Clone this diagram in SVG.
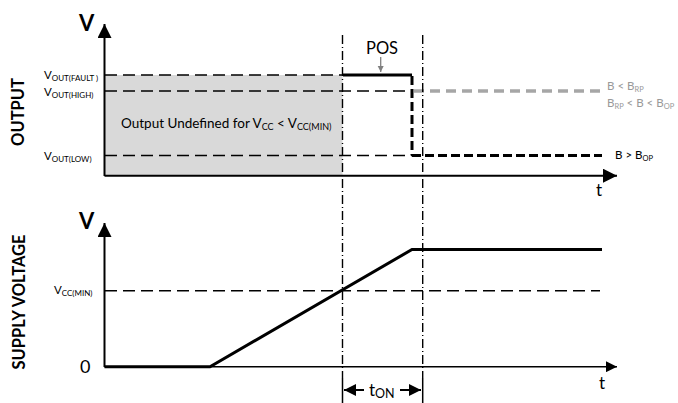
<svg xmlns="http://www.w3.org/2000/svg" width="678" height="403" viewBox="0 0 678 403">
<defs>
<style>
text{font-family:Lato,"Liberation Sans",sans-serif;fill:#000}
.ax{stroke:#000;stroke-width:2;fill:none}
.thin{stroke:#000;stroke-width:1.4;stroke-dasharray:12 6;fill:none}
.dd{stroke:#000;stroke-width:1.4;stroke-dasharray:9 3 1 3;fill:none}
.sig{stroke:#000;stroke-width:3;fill:none}
.sigd{stroke:#000;stroke-width:3;stroke-dasharray:9 4;fill:none}
.gry{stroke:#a6a6a6;stroke-width:3.5;stroke-dasharray:10 6;fill:none}
.lbl{font-size:11.5px}
.sub{font-size:8px}
.side{font-size:16.5px;font-weight:bold}
.big{font-size:22px;font-weight:bold}
.gt{fill:#999}
</style>
<marker id="ah" viewBox="0 0 10 10" refX="10" refY="5" markerWidth="7" markerHeight="7" markerUnits="strokeWidth" orient="auto"><path d="M0,0 L10,5 L0,10 z" fill="#000"/></marker>
<marker id="sa" viewBox="0 0 10 10" refX="10" refY="5" markerWidth="6" markerHeight="6" markerUnits="strokeWidth" orient="auto"><path d="M0,0 L10,5 L0,10 z" fill="#000"/></marker>
<marker id="ga" viewBox="0 0 10 10" refX="10" refY="5" markerWidth="5" markerHeight="5" markerUnits="strokeWidth" orient="auto"><path d="M0,0 L10,5 L0,10 z" fill="#808080"/></marker>
</defs>

<g id="output-chart">
<rect x="104.5" y="75" width="238" height="101" fill="#d9d9d9"/>
<line class="thin" x1="105" y1="75" x2="343" y2="75"/>
<line class="thin" x1="105" y1="91" x2="412" y2="91"/>
<line class="thin" x1="105" y1="155.5" x2="412" y2="155.5"/>
<line class="ax" x1="104.5" y1="176" x2="104.5" y2="24" marker-end="url(#ah)"/>
<line class="ax" x1="104.5" y1="175.7" x2="617" y2="175.7" marker-end="url(#ah)"/>
<text class="big" x="79" y="31">V</text>
<text class="side" transform="translate(24,112) rotate(-90)" text-anchor="middle">OUTPUT</text>
<text class="lbl" x="44" y="79">V<tspan class="sub" dy="2">OUT(FAULT )</tspan></text>
<text class="lbl" x="44" y="96">V<tspan class="sub" dy="2">OUT(HIGH)</tspan></text>
<text class="lbl" x="44" y="160">V<tspan class="sub" dy="2">OUT(LOW)</tspan></text>
<text x="121" y="128" style="font-size:13.5px">Output Undefined for V<tspan style="font-size:9px" dy="2">CC</tspan><tspan dy="-2"> &lt; V</tspan><tspan style="font-size:9px" dy="2">CC(MIN)</tspan></text>
<text x="596" y="196" style="font-size:17px">t</text>
</g>

<g id="output-signal">
<path class="sig" d="M343,75 H412"/>
<line class="sigd" x1="412" y1="76" x2="412" y2="155.5"/>
<line class="sigd" x1="412" y1="155.5" x2="602" y2="155.5"/>
<line class="gry" x1="414" y1="91" x2="602" y2="91"/>
<text x="366" y="54" style="font-size:16.5px">POS</text>
<line x1="380.7" y1="57" x2="380.7" y2="72" stroke="#808080" stroke-width="1.3" marker-end="url(#ga)"/>
<text class="gt" x="607" y="90" style="font-size:11.5px">B &lt; B<tspan style="font-size:7.5px" dy="2">RP</tspan></text>
<text class="gt" x="607" y="107" style="font-size:11.5px">B<tspan style="font-size:7.5px" dy="2">RP</tspan><tspan dy="-2"> &lt; B &lt; B</tspan><tspan style="font-size:7.5px" dy="2">OP</tspan></text>
<text x="615" y="159" style="font-size:11.5px">B &gt; B<tspan style="font-size:7.5px" dy="2">OP</tspan></text>
</g>

<g id="supply-chart">
<line class="thin" x1="105" y1="290.7" x2="600" y2="290.7"/>
<line class="ax" x1="104.5" y1="367" x2="104.5" y2="223" marker-end="url(#ah)"/>
<line x1="104.5" y1="366.7" x2="617" y2="366.7" stroke="#000" stroke-width="1.6" marker-end="url(#ah)"/>
<text class="big" x="79" y="229">V</text>
<text class="side" transform="translate(25,302) rotate(-90)" text-anchor="middle">SUPPLY VOLTAGE</text>
<text class="lbl" x="54" y="294">V<tspan class="sub" dy="2">CC(MIN)</tspan></text>
<text x="80" y="373" style="font-size:18px">0</text>
<text x="599" y="389" style="font-size:17px">t</text>
</g>

<g id="supply-signal">
<path class="sig" d="M104.5,366.7 H210 L412,249.5 H602" stroke-linejoin="miter"/>
</g>

<g id="connectors">
<line class="dd" x1="342.5" y1="35" x2="342.5" y2="378"/>
<line class="dd" x1="422.7" y1="35" x2="422.7" y2="378"/>
<line x1="342.5" y1="378" x2="342.5" y2="403" stroke="#000" stroke-width="1.5"/>
<line x1="422.7" y1="378" x2="422.7" y2="403" stroke="#000" stroke-width="1.5"/>
<line x1="364" y1="390" x2="344" y2="390" stroke="#000" stroke-width="2" marker-end="url(#sa)"/>
<line x1="400" y1="390" x2="421" y2="390" stroke="#000" stroke-width="2" marker-end="url(#sa)"/>
<text x="369" y="396" style="font-size:17px">t<tspan style="font-size:12.5px" dy="2">ON</tspan></text>
</g>
</svg>
